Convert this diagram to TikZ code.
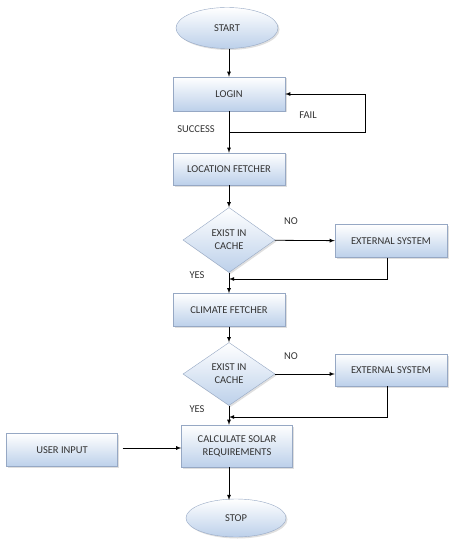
\documentclass[tikz,border=0pt]{standalone}
\usepackage{fontspec}
\setmainfont{Carlito}
\usetikzlibrary{shapes.geometric,shadows}
\definecolor{boxblue}{RGB}{188,208,234}
\definecolor{boxline}{RGB}{150,168,196}
\begin{document}
\begin{tikzpicture}[x=1pt,y=-1pt,
    every node/.style={font=\fontsize{10.5}{13}\selectfont, text=black!80},
    flowbase/.style={draw=boxline, top color=white, bottom color=boxblue,
        drop shadow={opacity=0.25, shadow xshift=1.5pt, shadow yshift=-1.5pt},
        align=center},
    procbox/.style={flowbase, rectangle, minimum width=112pt, minimum height=34pt},
    termbox/.style={flowbase, ellipse, minimum width=102pt, minimum height=41pt},
    decbox/.style={flowbase, diamond, minimum width=92pt, minimum height=65pt, inner sep=1pt},
    arr/.style={->, >=latex, thick}]

    \useasboundingbox (0,0) rectangle (448,540);

    % Main column
    \node[termbox] (start) at (227,28) {START};
    \node[procbox] (login) at (229,94) {LOGIN};
    \node[procbox, minimum height=32pt] (locfetch) at (229,169) {LOCATION FETCHER};
    \node[decbox] (cache1) at (229,240) {EXIST IN\\CACHE};
    \node[procbox, minimum height=33pt] (climfetch) at (229,310) {CLIMATE FETCHER};
    \node[decbox, minimum height=63pt] (cache2) at (229,374) {EXIST IN\\CACHE};
    \node[procbox, minimum width=111pt, minimum height=42pt] (calc) at (237,446)
        {CALCULATE SOLAR\\REQUIREMENTS};
    \node[termbox, minimum width=100pt, minimum height=38pt] (stop) at (236,518) {STOP};

    % Side boxes
    \node[procbox, minimum height=33pt] (ext1) at (391,241) {EXTERNAL SYSTEM};
    \node[procbox, minimum height=32pt] (ext2) at (391,370) {EXTERNAL SYSTEM};
    \node[procbox, minimum width=111pt, minimum height=33pt] (userin) at (62,450) {USER INPUT};

    % Joins on the main line
    \coordinate (failjoin) at (229,132);
    \coordinate (join1) at (229,279);
    \coordinate (join2) at (229,417);

    % Connectors
    \draw[arr] (start.south -| login) -- (login);
    \draw[arr] (login) -- (locfetch);
    \draw[arr] (failjoin) -- (365,132) |- (login.east);
    \draw[arr] (locfetch) -- (cache1);
    \draw[arr] (cache1) -- (climfetch);
    \draw[arr] (cache1) -- (ext1);
    \draw[arr] (ext1.south -| 387,0) |- (join1);
    \draw[arr] (climfetch) -- (cache2);
    \draw[arr] (cache2.south) -- (cache2.south |- calc.north);
    \draw[arr] (cache2.east) -- (cache2.east -| ext2.west);
    \draw[arr] (ext2.south -| 387,0) |- (join2);
    \draw[arr] (userin.east) ++(5,-2) -- (calc.west |- 0,448);
    \draw[arr] (calc.south -| 229,0) -- (229,500);

    % Labels
    \node at (308,115) {FAIL};
    \node at (196,129) {SUCCESS};
    \node at (291,221) {NO};
    \node at (197,275) {YES};
    \node at (291,356) {NO};
    \node at (197,409) {YES};

\end{tikzpicture}
\end{document}
